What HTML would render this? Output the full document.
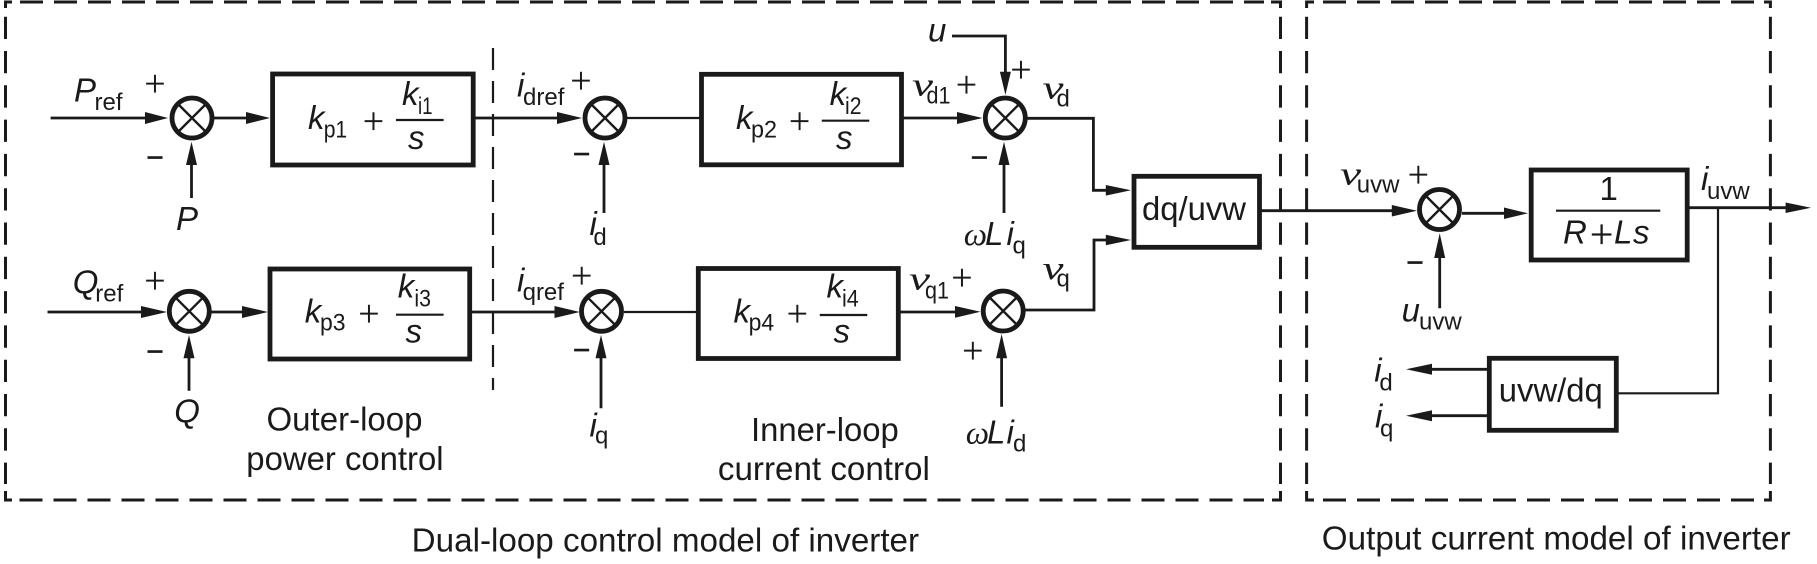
<!DOCTYPE html>
<html><head><meta charset="utf-8"><style>
html,body{margin:0;padding:0;background:#fff}
svg{display:block;filter:blur(0.35px)}
text{font-family:"Liberation Sans",sans-serif;fill:#1a1a1a}
.m{font-size:33px;font-style:italic}
.n{font-size:33px;font-style:italic;font-family:"Liberation Serif",serif}
.s{font-size:24px}
.t{font-size:33px}
.p{font-size:38px;text-anchor:middle;stroke:#fff;stroke-width:.7}
.d{font-size:30px;text-anchor:middle;stroke:#1a1a1a;stroke-width:.5}
.l{fill:none;stroke:#1a1a1a;stroke-width:2.8}
.f{fill:none;stroke:#1a1a1a;stroke-width:2.2}
.b{fill:#fff;stroke:#1a1a1a;stroke-width:4.8}
.c{fill:#fff;stroke:#1a1a1a;stroke-width:4.8}
.x{fill:none;stroke:#1a1a1a;stroke-width:2.4}
.h{fill:none;stroke:#1a1a1a;stroke-width:3;stroke-dasharray:23 11}
.k{fill:none;stroke:#1a1a1a;stroke-width:3}
.v{fill:none;stroke:#1a1a1a;stroke-width:3;stroke-dasharray:22.3 12}
polygon{fill:#1a1a1a}
</style></head><body>
<svg width="1817" height="564" viewBox="0 0 1817 564" xmlns="http://www.w3.org/2000/svg">
<rect width="1817" height="564" fill="#fff"/>
<!-- dashed frames -->
<path class="h" d="M20 2H1264M19.5 500H1264"/>
<path class="k" d="M5.5 8V2H12M1271 2H1280.5V8M5.5 491V500H12M1272 500H1280.5V491"/>
<path class="v" d="M5.5 16.7V484M1280.5 16.7V484"/>
<path class="h" d="M1323 2H1756M1323 500H1756"/>
<path class="k" d="M1306.6 8V2H1314M1764 2H1770.4V8M1306.6 491V500H1314M1764 500H1770.4V491"/>
<path class="v" d="M1306.6 16.7V484M1770.4 16.7V484"/>
<path d="M493 48V390" fill="none" stroke="#1a1a1a" stroke-width="2.2" stroke-dasharray="22 11"/>

<!-- connectors row 1 -->
<path class="l" d="M50.6 118H146M213 118H250M475 118H560"/>
<polygon points="145,112 168,118 145,124"/><polygon points="246,112 270,118 246,124"/><polygon points="557,112 582,118 557,124"/>
<path class="f" d="M627 118H700"/>
<path class="l" d="M903 118H960"/>
<polygon points="957,112 982.5,118 957,124"/>
<path class="l" d="M191.5 198V160M604 213V160M1004 213V160M952 36H1005.4V75"/>
<polygon points="186,165 191.5,141.7 197,165"/><polygon points="598.5,165 604,141.7 609.5,165"/><polygon points="998.5,165 1004,141.7 1009.5,165"/><polygon points="999.9,71.7 1005.4,95 1010.9,71.7"/>
<path class="l" d="M1027 118.3H1093.4V190.3H1110"/>
<polygon points="1105.8,185 1131,190.3 1105.8,195.6"/>
<path class="l" d="M1024 310H1094V240H1110"/>
<polygon points="1105.8,234.7 1131,240 1105.8,245.3"/>

<!-- connectors row 2 -->
<path class="l" d="M47.5 312H145M210 312H246M470 312H558"/>
<polygon points="141,306 167,312 141,318"/><polygon points="242,306 268,312 242,318"/><polygon points="554.5,306 579.8,312 554.5,318"/>
<path class="f" d="M624 312H698"/>
<path class="l" d="M900 312H960"/>
<polygon points="955,306 980.5,311.7 955,317.7"/>
<path class="l" d="M189 390.7V350M601 408.3V350M1001.6 406.7V350"/>
<polygon points="183.5,358.3 189,335 194.5,358.3"/><polygon points="595.5,358.3 601,335 606.5,358.3"/><polygon points="996.1,358.3 1001.6,334 1007.1,358.3"/>

<!-- connectors right -->
<path class="l" d="M1261 210.7H1395M1462 213.3H1508M1689 207.7H1790"/>
<polygon points="1391.8,205 1417,210.7 1391.8,216.5"/><polygon points="1504,207.5 1528,213.3 1504,219"/><polygon points="1785.6,202.5 1811,207.7 1785.6,213"/>
<path class="f" d="M1718 207.7V393.3H1618"/>
<path class="l" d="M1439.7 308.3V250M1487 369.3H1428M1487 415.7H1428"/>
<polygon points="1434.2,258 1439.7,233.3 1445.2,258"/><polygon points="1432,363.8 1406,369.3 1432,374.8"/><polygon points="1432,410.2 1406,415.7 1432,421.2"/>

<!-- summing junctions -->
<g>
<circle class="c" cx="192" cy="118" r="20"/><path class="x" d="M177.5 103.5L206.5 132.5M206.5 103.5L177.5 132.5"/>
<circle class="c" cx="605" cy="118" r="20"/><path class="x" d="M590.5 103.5L619.5 132.5M619.5 103.5L590.5 132.5"/>
<circle class="c" cx="1005.3" cy="118" r="20"/><path class="x" d="M990.8 103.5L1019.8 132.5M1019.8 103.5L990.8 132.5"/>
<circle class="c" cx="189.3" cy="311.3" r="20"/><path class="x" d="M174.8 296.8L203.8 325.8M203.8 296.8L174.8 325.8"/>
<circle class="c" cx="601.5" cy="311.3" r="20"/><path class="x" d="M587 296.8L616 325.8M616 296.8L587 325.8"/>
<circle class="c" cx="1003.2" cy="311" r="20"/><path class="x" d="M988.7 296.5L1017.7 325.5M1017.7 296.5L988.7 325.5"/>
<circle class="c" cx="1439.5" cy="209.5" r="20"/><path class="x" d="M1425 195L1454 224M1454 195L1425 224"/>
</g>

<!-- blocks -->
<rect class="b" x="272.6" y="74" width="200.6" height="91"/>
<rect class="b" x="701.5" y="74.3" width="200" height="90.5"/>
<rect class="b" x="270" y="269" width="199.7" height="90"/>
<rect class="b" x="698.3" y="268.5" width="200" height="90"/>
<rect class="b" x="1134" y="176.3" width="125.5" height="71"/>
<rect class="b" x="1531.2" y="170" width="156" height="90"/>
<rect class="b" x="1489.3" y="358.3" width="127" height="72"/>

<!-- fraction bars -->
<path class="f" d="M396 120H443.6M821.8 120.7H869.3M396 314.7H443.6M819.8 315H867.3M1556 210.7H1660.3"/>

<!-- block 1 -->
<text class="m" x="308" y="129">k</text><text class="s" x="323.7" y="137.3" textLength="23.5" lengthAdjust="spacingAndGlyphs">p1</text>
<text class="p" x="373.5" y="134">+</text>
<text class="m" x="402" y="105">k</text><text class="s" x="418" y="114" textLength="14.5" lengthAdjust="spacingAndGlyphs">i1</text>
<text class="m" x="408" y="149">s</text>
<!-- block 2 -->
<text class="m" x="736" y="129">k</text><text class="s" x="751" y="137.3" textLength="26" lengthAdjust="spacingAndGlyphs">p2</text>
<text class="p" x="799.6" y="134">+</text>
<text class="m" x="829.6" y="105">k</text><text class="s" x="845" y="114" textLength="16.5" lengthAdjust="spacingAndGlyphs">i2</text>
<text class="m" x="836" y="149">s</text>
<!-- block 3 -->
<text class="m" x="304.7" y="322.7">k</text><text class="s" x="320" y="330.7" textLength="25.5" lengthAdjust="spacingAndGlyphs">p3</text>
<text class="p" x="369" y="326.7">+</text>
<text class="m" x="397.7" y="297.3">k</text><text class="s" x="414.4" y="306.7" textLength="16.6" lengthAdjust="spacingAndGlyphs">i3</text>
<text class="m" x="405.5" y="342.3">s</text>
<!-- block 4 -->
<text class="m" x="733.5" y="322.7">k</text><text class="s" x="748.6" y="330.7" textLength="25.5" lengthAdjust="spacingAndGlyphs">p4</text>
<text class="p" x="797.3" y="326.7">+</text>
<text class="m" x="826.5" y="297.3">k</text><text class="s" x="842" y="306.7" textLength="16.8" lengthAdjust="spacingAndGlyphs">i4</text>
<text class="m" x="833.5" y="342.3">s</text>
<!-- dq/uvw etc -->
<text class="t" x="1142" y="220" textLength="104" lengthAdjust="spacingAndGlyphs">dq/uvw</text>
<text class="t" x="1498.8" y="401.7" textLength="104" lengthAdjust="spacingAndGlyphs">uvw/dq</text>
<text class="t" x="1599.5" y="200">1</text>
<text class="m" x="1563" y="243.3">R</text><text class="p" style="font-size:42px" x="1601.7" y="248">+</text><text class="m" x="1614" y="243.3">L</text><text class="m" x="1633" y="243.3">s</text>

<!-- signal labels -->
<text class="m" x="74" y="101.7">P</text><text class="s" x="94.5" y="110">ref</text>
<text class="p" x="155" y="96.7">+</text><text class="d" x="155" y="167.3">−</text>
<text class="m" x="176" y="230">P</text>
<text class="m" x="72.8" y="293.3">Q</text><text class="s" x="95.3" y="301.7">ref</text>
<text class="p" x="155" y="293.4">+</text><text class="d" x="155" y="361.6">−</text>
<text class="m" x="174.3" y="422.7">Q</text>

<text class="m" x="517" y="96.7">i</text><text class="s" x="523" y="105">dref</text>
<text class="p" x="581" y="93.4">+</text><text class="d" x="581.7" y="163.9">−</text>
<text class="m" x="589.5" y="235">i</text><text class="s" x="593.4" y="245">d</text>
<text class="m" x="517" y="291.7">i</text><text class="s" x="522.6" y="300">qref</text>
<text class="p" x="581.7" y="288.4">+</text><text class="d" x="581.7" y="359.9">−</text>
<text class="m" x="589.5" y="436.7">i</text><text class="s" x="595" y="443.3">q</text>

<text class="m" x="928" y="41.7">u</text>
<text class="p" x="1021" y="82.4">+</text>
<text class="n" x="912" y="95.5" textLength="21" lengthAdjust="spacingAndGlyphs">v</text><text class="s" x="926.5" y="103.5" textLength="24" lengthAdjust="spacingAndGlyphs">d1</text>
<text class="p" x="966.5" y="97.7">+</text><text class="d" x="979.4" y="167.6">−</text>
<text class="n" x="963.8" y="245">ω</text><text class="m" x="985" y="245">L</text><text class="m" x="1006.5" y="245">i</text><text class="s" x="1012.5" y="253.3">q</text>
<text class="n" x="1042.5" y="98.3" textLength="21" lengthAdjust="spacingAndGlyphs">v</text><text class="s" x="1056.5" y="106.5">d</text>

<text class="n" x="909" y="289.3" textLength="21" lengthAdjust="spacingAndGlyphs">v</text><text class="s" x="925" y="298.3" textLength="24" lengthAdjust="spacingAndGlyphs">q1</text>
<text class="p" x="962" y="290.4">+</text><text class="p" x="972.8" y="363.4">+</text>
<text class="n" x="965.8" y="443.3">ω</text><text class="m" x="987" y="443.3">L</text><text class="m" x="1006.5" y="443.3">i</text><text class="s" x="1013" y="451.7">d</text>
<text class="n" x="1042.5" y="279" textLength="21" lengthAdjust="spacingAndGlyphs">v</text><text class="s" x="1056.5" y="286.7">q</text>

<text class="n" x="1340" y="184.3" textLength="21" lengthAdjust="spacingAndGlyphs">v</text><text class="s" x="1356.8" y="192.3">uvw</text>
<text class="p" x="1418.3" y="187.4">+</text><text class="d" x="1415" y="272.3">−</text>
<text class="m" x="1401.6" y="321.7">u</text><text class="s" x="1419" y="329.3">uvw</text>
<text class="m" x="1701" y="190">i</text><text class="s" x="1707" y="199">uvw</text>
<text class="m" x="1374.3" y="381.7">i</text><text class="s" x="1379.4" y="390.7">d</text>
<text class="m" x="1375" y="427.7">i</text><text class="s" x="1380" y="436.7">q</text>

<!-- captions -->
<text class="t" x="266.5" y="430.7" textLength="156" lengthAdjust="spacingAndGlyphs">Outer-loop</text>
<text class="t" x="246.3" y="470" textLength="197.3" lengthAdjust="spacingAndGlyphs">power control</text>
<text class="t" x="751" y="441" textLength="147.8" lengthAdjust="spacingAndGlyphs">Inner-loop</text>
<text class="t" x="717.9" y="480" textLength="212" lengthAdjust="spacingAndGlyphs">current control</text>
<text class="t" x="411.7" y="551.7" textLength="507.4" lengthAdjust="spacingAndGlyphs">Dual-loop control model of inverter</text>
<text class="t" x="1321.8" y="549.3" textLength="468.9" lengthAdjust="spacingAndGlyphs">Output current model of inverter</text>
</svg>
</body></html>
